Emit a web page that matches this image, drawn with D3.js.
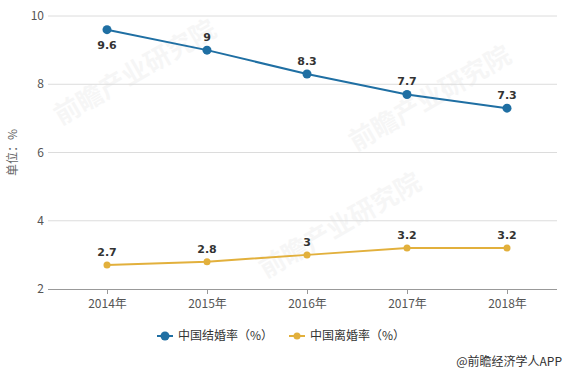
<!DOCTYPE html>
<html>
<head>
<meta charset="utf-8">
<script src="https://cdn.jsdelivr.net/npm/d3@7"></script>
<style>
  body { margin: 0; background: #fff; }
  svg { display: block; font-family: "Noto Sans CJK SC", "Microsoft YaHei", sans-serif; }
</style>
</head>
<body>
<div id="chart"></div>
<script>
const years = ["2014年", "2015年", "2016年", "2017年", "2018年"];
const marriage = [9.6, 9, 8.3, 7.7, 7.3];
const divorce = [2.7, 2.8, 3, 3.2, 3.2];
const yTicks = [2, 4, 6, 8, 10];
const seriesNames = ["中国结婚率（%）", "中国离婚率（%）"];

const width = 568, height = 373;
const plotLeft = 48, plotRight = 557, plotTop = 16, plotBottom = 289;

const svg = d3.select("#chart").append("svg")
  .attr("width", width)
  .attr("height", height);

// faint watermark
[[135, 72], [430, 98], [340, 225]].forEach(p => {
  svg.append("text")
    .attr("transform", "translate(" + p[0] + "," + p[1] + ") rotate(-30)")
    .attr("text-anchor", "middle")
    .attr("dy", "0.35em")
    .style("font-size", "26px")
    .style("font-weight", "bold")
    .style("fill", "#000")
    .style("opacity", 0.03)
    .text("前瞻产业研究院");
});

const x = d3.scalePoint().domain(years).range([57, 557]).padding(0.5);
const y = d3.scaleLinear().domain([2, 10]).range([plotBottom, plotTop]);

// grid
svg.append("g").selectAll("line")
  .data(yTicks.slice(1))
  .join("line")
  .attr("x1", plotLeft).attr("x2", plotRight)
  .attr("y1", d => y(d)).attr("y2", d => y(d))
  .style("stroke", "#dcdcdc");

// y labels
svg.append("g").selectAll("text")
  .data(yTicks)
  .join("text")
  .attr("x", 44)
  .attr("y", d => y(d))
  .attr("dy", "0.35em")
  .attr("text-anchor", "end")
  .style("font-size", "12px")
  .style("fill", "#555")
  .text(d => d);

svg.append("text")
  .attr("transform", "translate(17," + ((plotTop + plotBottom) / 2) + ") rotate(-90)")
  .attr("text-anchor", "middle")
  .style("font-size", "12px")
  .style("fill", "#666")
  .text("单位：%");

// x axis
const xAxis = svg.append("g")
  .attr("transform", "translate(0," + plotBottom + ")")
  .call(d3.axisBottom(x).tickSize(5).tickSizeOuter(0));
xAxis.select(".domain").attr("d", "M" + plotLeft + ",0.5H" + plotRight).style("stroke", "#999");
xAxis.selectAll(".tick line").style("stroke", "#999");
xAxis.selectAll(".tick text")
  .attr("y", 10)
  .style("font-size", "12px")
  .style("fill", "#555")
  .style("font-family", "'Noto Sans CJK SC', sans-serif");

const series = [
  { name: seriesNames[0], values: marriage, color: "#1f6fa3", r: 4.5 },
  { name: seriesNames[1], values: divorce, color: "#e2b03c", r: 3.5 }
];

const line = d3.line()
  .x((d, i) => x(years[i]))
  .y(d => y(d));

series.forEach((s, si) => {
  svg.append("path")
    .datum(s.values)
    .attr("d", line)
    .style("fill", "none")
    .style("stroke", s.color)
    .style("stroke-width", 2);

  svg.append("g").selectAll("circle")
    .data(s.values)
    .join("circle")
    .attr("cx", (d, i) => x(years[i]))
    .attr("cy", d => y(d))
    .attr("r", s.r)
    .style("fill", s.color);

  svg.append("g").selectAll("text")
    .data(s.values)
    .join("text")
    .attr("x", (d, i) => x(years[i]))
    .attr("y", (d, i) => (si == 0 && i == 0) ? y(d) + 19 : y(d) - 9)
    .attr("text-anchor", "middle")
    .style("font-size", "11px")
    .style("font-weight", "bold")
    .style("fill", "#333")
    .style("font-family", "'DejaVu Sans', sans-serif")
    .text(d => d);
});

// legend
const legendX = [165, 297];
series.forEach((s, i) => {
  const g = svg.append("g").attr("transform", "translate(" + legendX[i] + ",336)");
  g.append("line").attr("x1", -8).attr("x2", 8)
    .style("stroke", s.color).style("stroke-width", 2);
  g.append("circle").attr("r", s.r).style("fill", s.color);
  g.append("text")
    .attr("x", 13)
    .attr("dy", "0.35em")
    .style("font-size", "12px")
    .style("fill", "#333")
    .text(s.name);
});

svg.append("text")
  .attr("x", 562)
  .attr("y", 362)
  .attr("dy", "0.35em")
  .attr("text-anchor", "end")
  .style("font-size", "12px")
  .style("fill", "#333")
  .text("@前瞻经济学人APP");
</script>
</body>
</html>
